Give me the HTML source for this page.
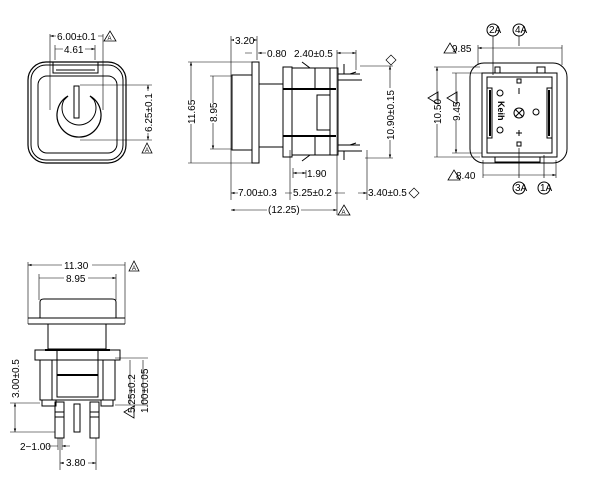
<!DOCTYPE html>
<html><head><meta charset="utf-8"><style>
html,body{margin:0;padding:0;background:#fff;}
svg{display:block;}
text{font-family:"Liberation Sans",sans-serif;font-size:10px;fill:#000;stroke:none;}
</style></head><body>
<svg width="604" height="478" viewBox="0 0 604 478" xmlns="http://www.w3.org/2000/svg" fill="none" stroke="#000" stroke-width="1">
<defs>
<marker id="a" viewBox="0 0 6 6" refX="6" refY="3" markerWidth="6" markerHeight="6" orient="auto-start-reverse"><path d="M0,1 L6,3 L0,5z" fill="#000" stroke="none"/></marker>
</defs>
<g id="v1">
<rect x="28" y="62" width="98" height="101" rx="18" stroke-width="1.2"/>
<rect x="31" y="65" width="92" height="95" rx="15"/>
<rect x="38" y="76" width="79" height="77" rx="9"/>
<path d="M53,62 V73 H98 V62 M56,70 H95"/>
<path d="M68,96 A22,22 0 1 0 90,96" stroke-width="1.2"/>
<path d="M64,100 A17,17 0 1 0 94,100" />
<path d="M68,96 L64,100 M90,96 L94,100"/>
<rect x="74" y="86" width="5" height="32"/>
<path d="M50,34 V110 M103,34 V110" stroke-width=".6"/>
<path d="M50,36 H103 M55,49 H95" stroke-width=".6" marker-start="url(#a)" marker-end="url(#a)"/>
<path d="M55,45 V60 M95,45 V60" stroke-width=".6"/>
<rect x="56" y="31" width="42" height="10" fill="#fff" stroke="none"/>
<text x="57" y="40">6.00±0.1</text>
<rect x="63" y="44" width="22" height="10" fill="#fff" stroke="none"/>
<text x="64" y="53">4.61</text>
<path d="M104,41 L110,31 L116,41Z" stroke-width=".8"/><text x="107.5" y="40" style="font-size:6px">A</text>
<path d="M80,85 H152 M80,140 H152" stroke-width=".6"/>
<path d="M148,85 V140" stroke-width=".6" marker-start="url(#a)" marker-end="url(#a)"/>
<rect x="143" y="91" width="10" height="42" fill="#fff" stroke="none"/>
<text transform="translate(152,132) rotate(-90)">6.25±0.1</text>
<path d="M142,153 L147,143 L152,153Z" stroke-width=".8"/><text x="145" y="152" style="font-size:6px">A</text>
</g>
<g id="v2">
<path d="M188,62 H259 M188,163 H259 M210,76 H232 M210,149 H232" stroke-width=".6"/>
<path d="M191,62 V163 M213,76 V149" stroke-width=".6" marker-start="url(#a)" marker-end="url(#a)"/>
<rect x="185" y="102" width="12" height="22" fill="#fff" stroke="none"/>
<text transform="translate(195,124) rotate(-90)">11.65</text>
<rect x="207" y="103" width="12" height="20" fill="#fff" stroke="none"/>
<text transform="translate(217,122) rotate(-90)">8.95</text>
<rect x="232" y="75" width="20" height="75"/>
<rect x="252" y="62" width="7" height="101"/>
<rect x="259" y="84" width="24" height="63"/>
<rect x="283" y="67" width="9" height="90"/>
<rect x="292" y="68" width="46" height="87"/>
<path d="M283,89 H336 M283,136 H336" stroke-width="2"/>
<path d="M315,68 V89 M315,136 V155 M330,68 V155"/>
<rect x="317" y="95" width="13" height="35"/>
<path d="M338,74 H360 M338,80 H362 M344,74 V64 M350,74 L356,72 M338,145 H360 M338,151 H362 M344,151 V160 M350,145 L356,143 M310,68 L302,62 M310,155 L302,161"/>
<path d="M231,36 V200 M257,36 V60 M290,150 V200 M337,50 V215 M367,150 V200 M356,50 V70 M306,170 V178 M293,168 V178" stroke-width=".6"/>
<path d="M231,40 H257" stroke-width=".6" marker-start="url(#a)" marker-end="url(#a)"/>
<rect x="234" y="35" width="20" height="10" fill="#fff" stroke="none"/>
<text x="235" y="44">3.20</text>
<path d="M245,53 H252 M266,53 H258" stroke-width=".6" marker-end="url(#a)"/>
<text x="267" y="57">0.80</text>
<text x="294" y="57">2.40±0.5</text>
<path d="M337,53 H356" stroke-width=".6" marker-start="url(#a)" marker-end="url(#a)"/>
<path d="M293,173 H306" stroke-width=".6" marker-start="url(#a)" marker-end="url(#a)"/>
<text x="307" y="177">1.90</text>
<path d="M231,193 H290 M290,193 H337" stroke-width=".6" marker-start="url(#a)" marker-end="url(#a)"/>
<rect x="238" y="187" width="47" height="10" fill="#fff" stroke="none"/>
<text x="238" y="196">7.00±0.3</text>
<rect x="292" y="187" width="43" height="10" fill="#fff" stroke="none"/>
<text x="293" y="196">5.25±0.2</text>
<path d="M345,193 H337 M358,193 H367" stroke-width=".6" marker-end="url(#a)"/>
<text x="368" y="196">3.40±0.5</text>
<path d="M414,188 L419,193 L414,198 L409,193Z" stroke-width=".7"/>
<path d="M231,210 H337" stroke-width=".6" marker-start="url(#a)" marker-end="url(#a)"/>
<rect x="267" y="204" width="34" height="10" fill="#fff" stroke="none"/>
<text x="268" y="213">(12.25)</text>
<path d="M338,215 L344,205 L350,215Z" stroke-width=".8"/><text x="341.5" y="214" style="font-size:6px">A</text>
<path d="M360,66 H393 M365,158 H393" stroke-width=".6"/>
<path d="M390,66 V158" stroke-width=".6" marker-start="url(#a)" marker-end="url(#a)"/>
<rect x="384" y="88" width="12" height="52" fill="#fff" stroke="none"/>
<text transform="translate(394,140) rotate(-90)">10.90±0.15</text>
<path d="M391,55 L396,60 L391,65 L386,60Z" stroke-width=".7"/>
</g>
<g id="v3">
<rect x="470" y="63" width="97" height="100" rx="14"/>
<rect x="482" y="73" width="75" height="84"/>
<path d="M482,73 H495 V67 H500 V73 M537,73 V67 H545 V73 H557 M482,157 H495 V162 H540 V157 H557"/>
<rect x="487" y="77" width="65" height="76"/>
<path d="M487,88 H492 V138 H487 M552,88 H547 V138 H552"/>
<path d="M490,90 V136 M549,90 V136" stroke-width="2"/>
<rect x="517" y="79" width="4" height="4"/><rect x="517" y="142" width="4" height="4"/>
<path d="M519,88 V94"/>
<circle cx="519" cy="113" r="5"/><path d="M515,109 L523,117 M523,109 L515,117"/>
<circle cx="500" cy="93" r="3"/><circle cx="500" cy="130" r="3"/><circle cx="536" cy="112" r="3"/>
<path d="M519,130 V136 M516,133 H522"/>
<text transform="translate(498,101) rotate(90)" style="font-weight:bold;font-size:9px">Keih</text>
<circle cx="493" cy="30" r="6"/><circle cx="519" cy="30" r="6"/>
<circle cx="519" cy="188" r="6"/><circle cx="544" cy="188" r="6"/>
<g style="font-size:7px"><text x="489" y="33">2A</text><text x="515" y="33">4A</text><text x="515" y="191">3A</text><text x="540" y="191">1A</text></g>
<path d="M493,36 V75 M519,36 V46 M519,178 V148 M544,178 V155" stroke-width=".7"/>
<path d="M478,45 V65 M562,45 V65 M483,160 V178 M556,160 V178 M434,67 H480 M434,157 H480 M452,73 H482 M452,153 H482" stroke-width=".6"/>
<path d="M478,48 H562 M483,175 H556" stroke-width=".6" marker-start="url(#a)" marker-end="url(#a)"/>
<path d="M437,67 V157 M456,73 V153" stroke-width=".6" marker-start="url(#a)" marker-end="url(#a)"/>
<text x="452" y="52">9.85</text>
<text x="456" y="179">8.40</text>
<rect x="431" y="100" width="12" height="24" fill="#fff" stroke="none"/>
<text transform="translate(441,124) rotate(-90)">10.50</text>
<rect x="450" y="101" width="12" height="20" fill="#fff" stroke="none"/>
<text transform="translate(460,121) rotate(-90)">9.45</text>
<path d="M444,53 L450,43 L456,53Z M448,180 L454,170 L460,180Z M428,98 L438,92 L438,104Z M447,98 L457,92 L457,104Z" stroke-width=".8"/>
</g>
<g id="v4">
<path d="M28,262 V324 M125,262 V324" stroke-width=".6"/>
<path d="M28,265 H125 M39,278 H116" stroke-width=".6" marker-start="url(#a)" marker-end="url(#a)"/>
<path d="M39,274 V300 M116,274 V300" stroke-width=".6"/>
<rect x="62" y="260" width="30" height="10" fill="#fff" stroke="none"/>
<text x="64" y="269">11.30</text>
<rect x="64" y="273" width="24" height="10" fill="#fff" stroke="none"/>
<text x="66" y="282">8.95</text>
<path d="M129,271 L134,261 L139,271Z" stroke-width=".8"/><text x="132" y="270" style="font-size:6px">A</text>
<path d="M40,318 V302 Q40,299 44,299 H112 Q116,299 116,302 V318"/>
<path d="M28,318 H125 M28,324 H125"/>
<rect x="48" y="324" width="58" height="25"/>
<path d="M45,350 H110" stroke-width="2"/>
<rect x="35" y="350" width="85" height="10"/>
<rect x="40" y="360" width="75" height="40"/>
<rect x="57" y="350" width="41" height="47"/>
<path d="M57,375 H98" stroke-width="2"/>
<path d="M52,360 V400 M103,360 V400 M42,400 V406 H56 V400 M101,400 V406 H113 V400"/>
<rect x="55" y="402" width="9" height="36"/><path d="M55,412 H64 M55,417 H64"/>
<rect x="74" y="404" width="6" height="28"/>
<rect x="90" y="402" width="9" height="36"/><path d="M90,412 H99 M90,417 H99"/>
<path d="M10,403 H40 M10,432 H55 M115,405 H148 M115,358 H148 M58,438 V450 M62,438 V450 M60,438 V470 M96,438 V470" stroke-width=".6"/>
<path d="M15,403 V432" stroke-width=".6" marker-start="url(#a)" marker-end="url(#a)"/>
<rect x="9" y="356" width="12" height="42" fill="#fff" stroke="none"/>
<text transform="translate(19,398) rotate(-90)">3.00±0.5</text>
<path d="M130,360 V405 M143,360 V405" stroke-width=".6"/>
<text transform="translate(135,413) rotate(-90)">5.25±0.2</text>
<text transform="translate(148,413) rotate(-90)">1.00±0.05</text>
<path d="M124,412 L134,406 L134,418Z" stroke-width=".8"/>
<path d="M48,446 H58 M70,446 H62" stroke-width=".6" marker-end="url(#a)"/>
<text x="20" y="450">2−1.00</text>
<path d="M60,463 H96" stroke-width=".6" marker-start="url(#a)" marker-end="url(#a)"/>
<rect x="64" y="457" width="24" height="10" fill="#fff" stroke="none"/>
<text x="66" y="466">3.80</text>
</g>
</svg>
</body></html>
